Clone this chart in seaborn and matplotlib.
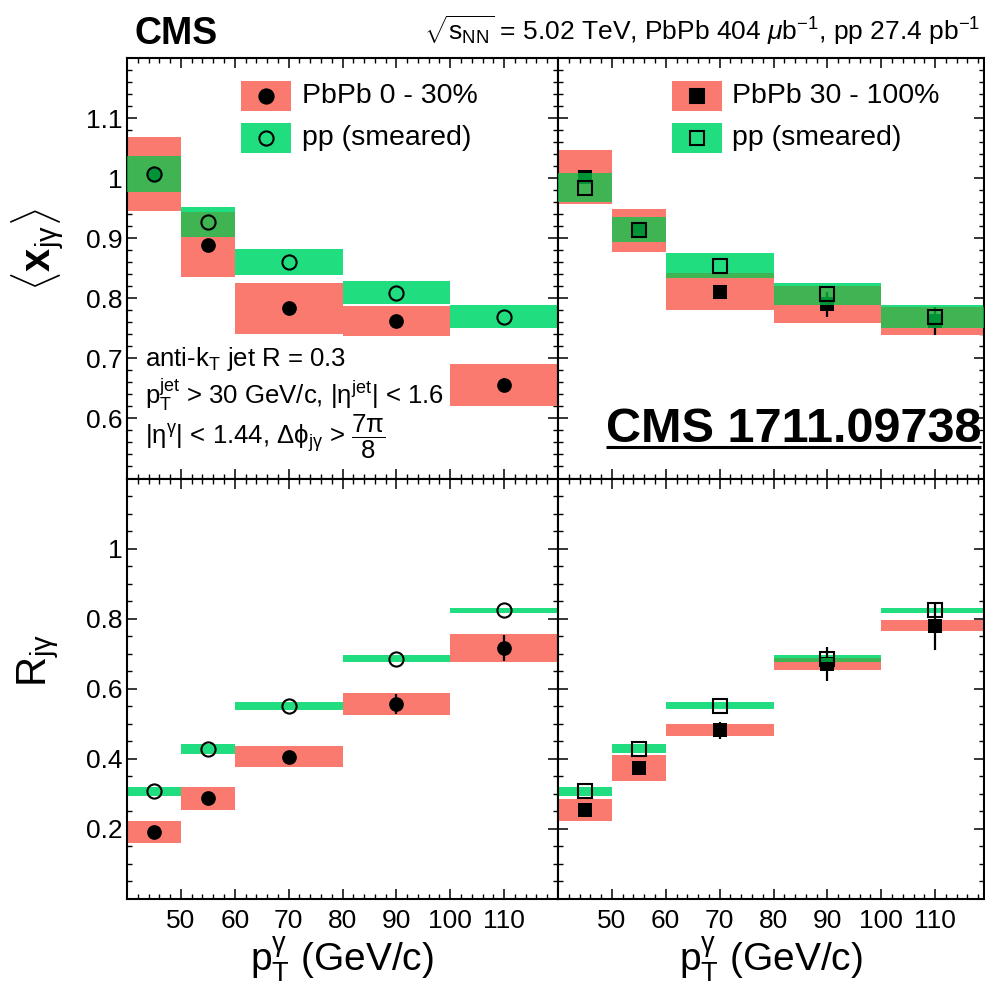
import numpy as np
import pandas as pd
import matplotlib
matplotlib.use("Agg")
import matplotlib.pyplot as plt
import seaborn as sns
from matplotlib.patches import Rectangle
from matplotlib.ticker import MultipleLocator, FuncFormatter

# photon pT binning (GeV/c)
bin_lo = [40, 50, 60, 80, 100]
bin_hi = [50, 60, 80, 100, 120]
bin_center = [45, 55, 70, 90, 110]

# <x_jgamma>, PbPb 0-30% and smeared pp reference
xjg_pbpb_cent = [1.007, 0.889, 0.783, 0.762, 0.656]
xjg_pbpb_cent_stat = [0.008, 0.008, 0.009, 0.010, 0.012]
xjg_pbpb_cent_syst = [0.061, 0.054, 0.043, 0.025, 0.035]
xjg_pp_cent = [1.007, 0.927, 0.860, 0.809, 0.769]
xjg_pp_cent_syst = [0.030, 0.025, 0.022, 0.019, 0.019]

# <x_jgamma>, PbPb 30-100% and smeared pp reference
xjg_pbpb_peri = [1.002, 0.913, 0.811, 0.790, 0.762]
xjg_pbpb_peri_stat = [0.010, 0.010, 0.011, 0.021, 0.023]
xjg_pbpb_peri_syst = [0.045, 0.036, 0.031, 0.031, 0.023]
xjg_pp_peri = [0.984, 0.914, 0.854, 0.807, 0.769]
xjg_pp_peri_syst = [0.024, 0.021, 0.021, 0.019, 0.019]

# R_jgamma, PbPb 0-30% and smeared pp reference
rjg_pbpb_cent = [0.191, 0.287, 0.406, 0.556, 0.716]
rjg_pbpb_cent_stat = [0.012, 0.014, 0.016, 0.029, 0.038]
rjg_pbpb_cent_syst = [0.031, 0.034, 0.030, 0.032, 0.041]
rjg_pp_cent = [0.307, 0.427, 0.550, 0.686, 0.824]
rjg_pp_cent_syst = [0.014, 0.014, 0.012, 0.010, 0.007]

# R_jgamma, PbPb 30-100% and smeared pp reference
rjg_pbpb_peri = [0.254, 0.374, 0.482, 0.671, 0.780]
rjg_pbpb_peri_stat = [0.015, 0.018, 0.024, 0.049, 0.068]
rjg_pbpb_peri_syst = [0.030, 0.036, 0.018, 0.018, 0.016]
rjg_pp_peri = [0.307, 0.429, 0.552, 0.686, 0.824]
rjg_pp_peri_syst = [0.014, 0.012, 0.011, 0.011, 0.007]

legend_cent = ["PbPb 0 - 30%", "pp (smeared)"]
legend_peri = ["PbPb 30 - 100%", "pp (smeared)"]

RED = "#FA7A70"
GREEN = "#20DE80"
OVERLAP = (0.0, 200 / 255, 74 / 255)
OVERLAP_ALPHA = 0.744

sns.set_theme(style="ticks")
plt.rcParams["font.family"] = ["Liberation Sans", "DejaVu Sans"]
plt.rcParams["mathtext.fontset"] = "custom"
plt.rcParams["mathtext.rm"] = "Liberation Sans"
plt.rcParams["mathtext.it"] = "Liberation Sans:italic"
plt.rcParams["mathtext.bf"] = "Liberation Sans:bold"
plt.rcParams["axes.linewidth"] = 1.5
plt.rcParams["axes.edgecolor"] = "black"
plt.rcParams["text.color"] = "black"
plt.rcParams["xtick.color"] = "black"
plt.rcParams["ytick.color"] = "black"

W, H = 985, 984
fig = plt.figure(figsize=(W / 100, H / 100), dpi=100)
fig.patch.set_facecolor("white")


def px_axes(x0, y0, x1, y1):
    return fig.add_axes([x0 / W, 1 - y1 / H, (x1 - x0) / W, (y1 - y0) / H])


ax_tl = px_axes(127, 58, 558, 478.5)
ax_tr = px_axes(558, 58, 984, 478.5)
ax_bl = px_axes(127, 478.5, 558, 899)
ax_br = px_axes(558, 478.5, 984, 899)

x_right_max = 40 + 80 * (984 - 558) / (558 - 127)


def draw_panel(ax, pb, pb_stat, pb_syst, pp, pp_syst, marker):
    lo = np.array(bin_lo, float)
    width = np.array(bin_hi, float) - lo
    pb = np.array(pb)
    pb_syst = np.array(pb_syst)
    pp = np.array(pp)
    pp_syst = np.array(pp_syst)
    df = pd.DataFrame({"pt": bin_center, "pbpb": pb, "pp": pp})

    # systematic boxes
    ax.bar(lo, 2 * pp_syst, bottom=pp - pp_syst, width=width, align="edge",
           color=GREEN, lw=0, zorder=1)
    ax.bar(lo, 2 * pb_syst, bottom=pb - pb_syst, width=width, align="edge",
           color=RED, lw=0, zorder=2)

    # PbPb points with statistical errors
    ax.errorbar(bin_center, pb, yerr=pb_stat, fmt="none", ecolor="black",
                elinewidth=1.6, capsize=0, zorder=3)
    sns.scatterplot(data=df, x="pt", y="pbpb", marker=marker, s=112,
                    color="black", edgecolor="black", linewidth=0,
                    zorder=3, ax=ax, legend=False)

    # region where both uncertainty boxes coincide
    olo = np.maximum(pb - pb_syst, pp - pp_syst)
    ohi = np.minimum(pb + pb_syst, pp + pp_syst)
    m = ohi > olo
    ax.bar(lo[m], (ohi - olo)[m], bottom=olo[m], width=width[m], align="edge",
           color=OVERLAP, alpha=OVERLAP_ALPHA, lw=0, zorder=4)

    # pp reference points
    ax.plot(bin_center, pp, ls="none", marker=marker, ms=10.2, mfc="none",
            mec="black", mew=1.5, zorder=5)


draw_panel(ax_tl, xjg_pbpb_cent, xjg_pbpb_cent_stat, xjg_pbpb_cent_syst,
           xjg_pp_cent, xjg_pp_cent_syst, "o")
draw_panel(ax_tr, xjg_pbpb_peri, xjg_pbpb_peri_stat, xjg_pbpb_peri_syst,
           xjg_pp_peri, xjg_pp_peri_syst, "s")
draw_panel(ax_bl, rjg_pbpb_cent, rjg_pbpb_cent_stat, rjg_pbpb_cent_syst,
           rjg_pp_cent, rjg_pp_cent_syst, "o")
draw_panel(ax_br, rjg_pbpb_peri, rjg_pbpb_peri_stat, rjg_pbpb_peri_syst,
           rjg_pp_peri, rjg_pp_peri_syst, "s")


def fmt_between(lo, hi):
    def f(v, pos):
        v = round(v, 4)
        if v < lo or v > hi:
            return ""
        return f"{v:g}"
    return FuncFormatter(f)


for ax in (ax_tl, ax_tr, ax_bl, ax_br):
    ax.set_facecolor("white")
    ax.set_xlabel("")
    ax.set_ylabel("")
    ax.xaxis.set_major_locator(MultipleLocator(10))
    ax.xaxis.set_minor_locator(MultipleLocator(2))
    ax.xaxis.set_major_formatter(fmt_between(45, 115))
    ax.tick_params(which="both", direction="in", top=True, right=True,
                   bottom=True, left=True, color="black")
    ax.tick_params(which="major", length=7.2, width=1.1)
    ax.tick_params(which="minor", length=3.6, width=1.0)
    ax.tick_params(axis="x", labelsize=19, pad=7)
    ax.tick_params(axis="y", labelsize=19, pad=3)
    for s in ax.spines.values():
        s.set_visible(True)
        s.set_linewidth(1.5)
        s.set_color("black")

for ax in (ax_tl, ax_tr):
    ax.set_ylim(0.5, 1.2)
    ax.yaxis.set_major_locator(MultipleLocator(0.1))
    ax.yaxis.set_minor_locator(MultipleLocator(0.02))
    ax.yaxis.set_major_formatter(fmt_between(0.55, 1.15))
    ax.tick_params(axis="x", labelbottom=False)
for ax in (ax_bl, ax_br):
    ax.set_ylim(0.0, 1.2)
    ax.yaxis.set_major_locator(MultipleLocator(0.2))
    ax.yaxis.set_minor_locator(MultipleLocator(0.05))
    ax.yaxis.set_major_formatter(fmt_between(0.15, 1.05))
for ax in (ax_tl, ax_bl):
    ax.set_xlim(40, 120)
for ax in (ax_tr, ax_br):
    ax.set_xlim(40, x_right_max)
    ax.tick_params(axis="y", labelleft=False)


def draw_legend(ax, labels, marker, x0, w, text_x):
    rows = [(0.874, RED, "black"), (0.774, GREEN, "none")]
    h = 0.0713
    for (yb, col, mfc), lab in zip(rows, labels):
        ax.add_patch(Rectangle((x0, yb), w, h, transform=ax.transAxes,
                               facecolor=col, edgecolor="none", zorder=6,
                               clip_on=False))
        ax.plot([x0 + w / 2], [yb + h / 2], transform=ax.transAxes,
                marker=marker, ms=10.2, mfc=mfc, mec="black", mew=1.5,
                ls="none", zorder=7, clip_on=False)
        ax.text(text_x, yb + h / 2, lab, transform=ax.transAxes, ha="left",
                va="center", fontsize=20.5, zorder=7)


draw_legend(ax_tl, legend_cent, "o", 0.2645, 0.116, 0.405)
draw_legend(ax_tr, legend_peri, "s", 0.267, 0.1174, 0.408)

# selection summary
sel_size = 18.5
ax_tl.text(0.042, 0.268, r"anti-k$_{\mathrm{T}}$ jet R = 0.3",
           transform=ax_tl.transAxes, fontsize=sel_size, va="baseline")
ax_tl.text(0.042, 0.176,
           r"p$_{\mathrm{T}}^{\mathrm{jet}}$ > 30 GeV/c, |$\mathrm{\eta}^{\mathrm{jet}}$| < 1.6",
           transform=ax_tl.transAxes, fontsize=sel_size, va="baseline")
ax_tl.text(0.042, 0.082,
           r"|$\mathrm{\eta}^{\mathrm{\gamma}}$| < 1.44, $\mathrm{\Delta\phi}_{\mathrm{j\gamma}}$ > $\dfrac{7\mathrm{\pi}}{8}$",
           transform=ax_tl.transAxes, fontsize=sel_size, va="baseline")

ref = ax_tr.text(0.993, 0.0875, "CMS 1711.09738", transform=ax_tr.transAxes,
                 ha="right", va="baseline", fontsize=35, fontweight="bold",
                 zorder=8)

# header
fig.text(135 / W, 1 - 44 / H, "CMS", fontsize=27, fontweight="bold",
         ha="left", va="baseline")
fig.text(980 / W, 1 - 40 / H,
         r"$\sqrt{\mathrm{s}_{\mathrm{NN}}}$ = 5.02 TeV, PbPb 404 $\mu$b$^{-1}$, pp 27.4 pb$^{-1}$",
         fontsize=19, ha="right", va="baseline")

# axis titles
fig.text(38 / W, 1 - 250 / H, r"$\langle\mathbf{x}_{\mathrm{j\gamma}}\rangle$",
         rotation=90, fontsize=30, ha="center", va="center")
fig.text(38 / W, 1 - 660 / H, r"R$_{\mathrm{j\gamma}}$",
         rotation=90, fontsize=30, ha="center", va="center")
for xc in (342, 771):
    fig.text(xc / W, 1 - 971 / H, r"p$_{\mathrm{T}}^{\mathrm{\gamma}}$ (GeV/c)",
             fontsize=28, ha="center", va="baseline")

# underline for the reference tag
fig.canvas.draw()
bb = ref.get_window_extent(renderer=fig.canvas.get_renderer())
inv = ax_tr.transAxes.inverted()
(ux0, _), (ux1, _) = inv.transform([(bb.x0, bb.y0), (bb.x1, bb.y0)])
uy = 1 - (446.7 - 58) / (478.5 - 58)
ax_tr.plot([ux0, ux1], [uy, uy], transform=ax_tr.transAxes, color="black",
           lw=2.2, solid_capstyle="butt", zorder=8, clip_on=False)

fig.savefig("out.png", dpi=100)
